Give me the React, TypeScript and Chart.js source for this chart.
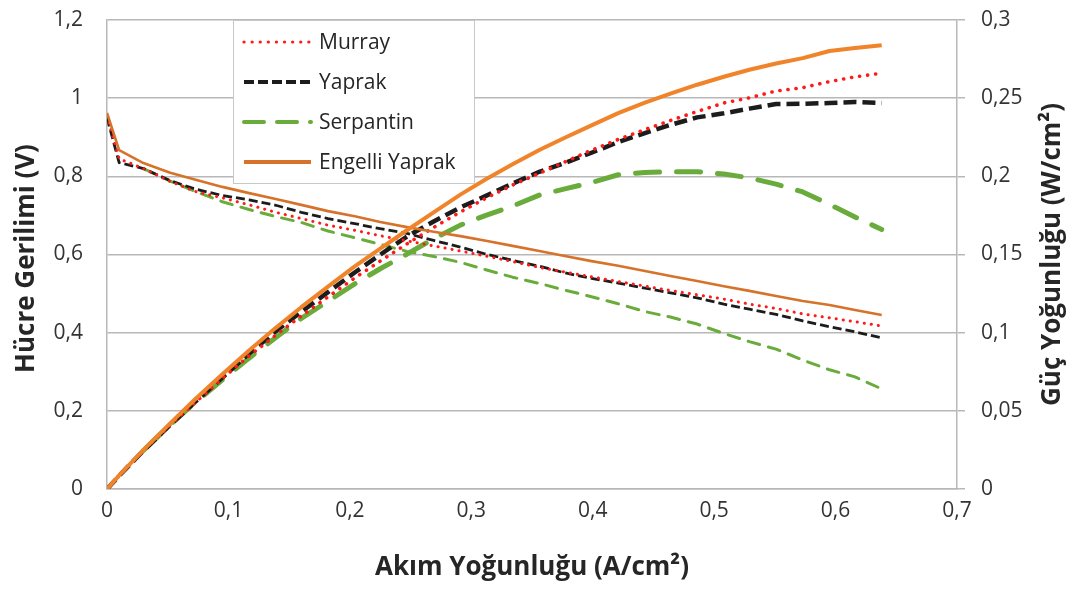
import React, { useEffect, useRef } from "react";
import { Chart, registerables } from "chart.js";

Chart.register(...registerables);

// Current density (A/cm²)
const current = [0, 0.01, 0.03, 0.052, 0.073, 0.095, 0.117, 0.139, 0.16, 0.182, 0.204, 0.225, 0.247, 0.269, 0.291, 0.312, 0.334, 0.356, 0.377, 0.399, 0.421, 0.443, 0.464, 0.486, 0.508, 0.529, 0.551, 0.573, 0.595, 0.616, 0.638];

// Cell voltage (V)
const murrayV = [0.954, 0.845, 0.82, 0.787, 0.761, 0.745, 0.727, 0.708, 0.692, 0.675, 0.662, 0.648, 0.635, 0.622, 0.609, 0.596, 0.582, 0.567, 0.555, 0.543, 0.531, 0.519, 0.508, 0.497, 0.486, 0.473, 0.462, 0.448, 0.438, 0.428, 0.417];
const yaprakV = [0.95, 0.835, 0.82, 0.789, 0.767, 0.751, 0.74, 0.726, 0.708, 0.692, 0.679, 0.666, 0.654, 0.636, 0.619, 0.601, 0.585, 0.57, 0.553, 0.539, 0.527, 0.514, 0.502, 0.489, 0.473, 0.46, 0.447, 0.43, 0.415, 0.402, 0.387];
const serpantinV = [null, null, 0.82, 0.788, 0.761, 0.735, 0.715, 0.697, 0.682, 0.66, 0.643, 0.626, 0.608, 0.595, 0.58, 0.561, 0.542, 0.526, 0.509, 0.492, 0.474, 0.454, 0.44, 0.422, 0.398, 0.377, 0.358, 0.33, 0.305, 0.287, 0.256];
const engelliV = [0.962, 0.867, 0.834, 0.809, 0.791, 0.773, 0.757, 0.742, 0.727, 0.711, 0.698, 0.683, 0.67, 0.658, 0.647, 0.635, 0.622, 0.609, 0.596, 0.583, 0.571, 0.558, 0.545, 0.532, 0.519, 0.507, 0.494, 0.481, 0.471, 0.458, 0.445];

// Power density (W/cm²)
const murrayP = [0, 0.0085, 0.0246, 0.0409, 0.0556, 0.0708, 0.0851, 0.0984, 0.1107, 0.1229, 0.135, 0.1458, 0.1568, 0.1673, 0.1772, 0.186, 0.1944, 0.2019, 0.2092, 0.2167, 0.2236, 0.2299, 0.2357, 0.2415, 0.2469, 0.2502, 0.2546, 0.2567, 0.2606, 0.2636, 0.266];
const yaprakP = [0, 0.0084, 0.0246, 0.041, 0.056, 0.0713, 0.0866, 0.1009, 0.1133, 0.1259, 0.1385, 0.1499, 0.1615, 0.1711, 0.1801, 0.1875, 0.1954, 0.2029, 0.2085, 0.2151, 0.2219, 0.2277, 0.2329, 0.2377, 0.2403, 0.2433, 0.2463, 0.2464, 0.2469, 0.2476, 0.2469];
const serpantinP = [null, null, 0.0246, 0.041, 0.0556, 0.0698, 0.0837, 0.0969, 0.1091, 0.1201, 0.1312, 0.1409, 0.1502, 0.1601, 0.1688, 0.175, 0.181, 0.188, 0.192, 0.196, 0.201, 0.2025, 0.203, 0.203, 0.2015, 0.199, 0.195, 0.19, 0.182, 0.174, 0.166];
const engelliP = [0, 0.0087, 0.025, 0.042, 0.0577, 0.0734, 0.0886, 0.1031, 0.1163, 0.1294, 0.1424, 0.1537, 0.1655, 0.177, 0.1883, 0.1981, 0.2077, 0.2168, 0.2247, 0.2326, 0.2404, 0.2472, 0.2529, 0.2586, 0.2637, 0.2682, 0.2722, 0.2756, 0.2802, 0.2821, 0.2839];

const seriesNames = ["Murray", "Yaprak", "Serpantin", "Engelli Yaprak"];

const xTitle = "Akım Yoğunluğu (A/cm²)";
const yLeftTitle = "Hücre Gerilimi (V)";
const yRightTitle = "Güç Yoğunluğu (W/cm²)";

const FONT = "'Open Sans', 'DejaVu Sans', sans-serif";
const TEXT = "#262626";
const TICK = "#333333";
const GRID = "#b8b8b8";

const RED = "#ff1a1a";
const BLACK = "#1c1c1c";
const GREEN = "#6aac3c";
const ORANGE_V = "#d7722a";
const ORANGE_P = "#f0842a";

const toPoints = (xs: number[], ys: (number | null)[]) =>
  xs.map((x, i) => ({ x, y: ys[i] })).filter((p) => p.y !== null);

const fmt = (v: number) => String(Number(v.toFixed(3))).replace(".", ",");

const legendStyles = [
  { color: RED, dash: [0.1, 8], width: 3.2, cap: "round" },
  { color: BLACK, dash: [10, 4], width: 4, cap: "butt" },
  { color: GREEN, dash: [20, 13], width: 4, cap: "round" },
  { color: ORANGE_V, dash: [], width: 4, cap: "butt" },
];

const overlayPlugin = {
  id: "overlay",
  afterDraw(chart: any) {
    const ctx = chart.ctx as CanvasRenderingContext2D;
    const a = chart.chartArea;
    const midY = (a.top + a.bottom) / 2;
    ctx.save();
    ctx.fillStyle = TEXT;
    ctx.font = `bold 26px ${FONT}`;
    ctx.textAlign = "center";
    ctx.textBaseline = "middle";
    // x title
    ctx.fillText(xTitle, (a.left + a.right) / 2, a.bottom + 79);
    // left title
    ctx.save();
    ctx.translate(a.left - 80, midY + 4);
    ctx.rotate(-Math.PI / 2);
    ctx.fillText(yLeftTitle, 0, 0);
    ctx.restore();
    // right title
    ctx.save();
    ctx.translate(a.right + 96, midY);
    ctx.rotate(-Math.PI / 2);
    ctx.fillText(yRightTitle, 0, 0);
    ctx.restore();

    // legend box
    const bx = a.left + 126;
    const by = a.top;
    const bw = 241;
    const bh = 163;
    ctx.fillStyle = "#ffffff";
    ctx.fillRect(bx, by, bw, bh);
    ctx.strokeStyle = "#c8c8c8";
    ctx.lineWidth = 1;
    ctx.strokeRect(bx + 0.5, by + 0.5, bw, bh);
    ctx.font = `21px ${FONT}`;
    ctx.textAlign = "left";
    ctx.textBaseline = "middle";
    seriesNames.forEach((name, i) => {
      const y = by + 22 + i * 40;
      const st = legendStyles[i];
      ctx.save();
      ctx.strokeStyle = st.color;
      ctx.lineWidth = st.width;
      ctx.lineCap = st.cap as CanvasLineCap;
      ctx.setLineDash(st.dash);
      ctx.beginPath();
      ctx.moveTo(bx + 11, y);
      ctx.lineTo(bx + 78, y);
      ctx.stroke();
      ctx.restore();
      ctx.fillStyle = TEXT;
      ctx.fillText(name, bx + 86, y + 1);
    });
    ctx.restore();
  },
};

export default function App() {
  const ref = useRef<HTMLCanvasElement | null>(null);

  useEffect(() => {
    if (!ref.current) return;
    const mk = (
      label: string,
      ys: (number | null)[],
      axis: string,
      color: string,
      width: number,
      dash: number[],
      cap: string,
      order: number
    ) => ({
      label,
      data: toPoints(current, ys),
      yAxisID: axis,
      borderColor: color,
      backgroundColor: color,
      borderWidth: width,
      borderDash: dash,
      borderCapStyle: cap,
      borderJoinStyle: "round",
      pointRadius: 0,
      tension: 0,
      fill: false,
      order,
    });

    const chart = new Chart(ref.current, {
      type: "line",
      data: {
        datasets: [
          mk(seriesNames[3], engelliP, "yR", ORANGE_P, 4, [], "butt", 0),
          mk(seriesNames[3], engelliV, "yL", ORANGE_V, 2.6, [], "butt", 1),
          mk(seriesNames[0], murrayP, "yR", RED, 3.6, [0.1, 8], "round", 2),
          mk(seriesNames[0], murrayV, "yL", RED, 3, [0.1, 7], "round", 3),
          mk(seriesNames[1], yaprakP, "yR", BLACK, 4.5, [13, 6], "butt", 4),
          mk(seriesNames[1], yaprakV, "yL", BLACK, 2.8, [9, 4], "butt", 5),
          mk(seriesNames[2], serpantinP, "yR", GREEN, 5, [24, 17], "round", 6),
          mk(seriesNames[2], serpantinV, "yL", GREEN, 3, [12, 9], "round", 7),
        ] as any,
      },
      plugins: [overlayPlugin],
      options: {
        animation: false,
        responsive: false,
        maintainAspectRatio: false,
        layout: { padding: { top: 20, left: 0, right: 0, bottom: 0 } },
        plugins: { legend: { display: false }, tooltip: { enabled: false } },
        scales: {
          x: {
            type: "linear",
            min: 0,
            max: 0.7,
            ticks: {
              stepSize: 0.1,
              color: TICK,
              font: { family: FONT, size: 21 },
              padding: 9,
              callback: (v: any) => fmt(Number(v)),
            },
            grid: { display: false, drawTicks: false },
            border: { display: true, color: GRID, width: 1.5 },
            afterFit: (s: any) => {
              s.height = 101;
              s.paddingLeft = 0;
              s.paddingRight = 0;
            },
          },
          yL: {
            type: "linear",
            position: "left",
            min: 0,
            max: 1.2,
            ticks: {
              stepSize: 0.2,
              color: TICK,
              font: { family: FONT, size: 21 },
              padding: 24,
              callback: (v: any) => fmt(Number(v)),
            },
            grid: { color: GRID, lineWidth: 1.5, drawTicks: false },
            border: { display: true, color: GRID, width: 1.5 },
            afterFit: (s: any) => {
              s.width = 107;
              s.paddingTop = 0;
              s.paddingBottom = 0;
            },
          },
          yR: {
            type: "linear",
            position: "right",
            min: 0,
            max: 0.3,
            ticks: {
              stepSize: 0.05,
              color: TICK,
              font: { family: FONT, size: 21 },
              padding: 16,
              callback: (v: any) => fmt(Number(v)),
            },
            grid: {
              drawOnChartArea: false,
              drawTicks: true,
              tickLength: 8,
              color: GRID,
              lineWidth: 1.5,
            },
            border: { display: true, color: GRID, width: 1.5 },
            afterFit: (s: any) => {
              s.width = 117;
              s.paddingTop = 0;
              s.paddingBottom = 0;
            },
          },
        },
      } as any,
    });
    return () => chart.destroy();
  }, []);

  return (
    <div style={{ position: "fixed", left: 0, top: 0, width: 1074, height: 590, background: "#fff" }}>
      <canvas ref={ref} width={1074} height={590} style={{ width: 1074, height: 590 }} />
    </div>
  );
}
